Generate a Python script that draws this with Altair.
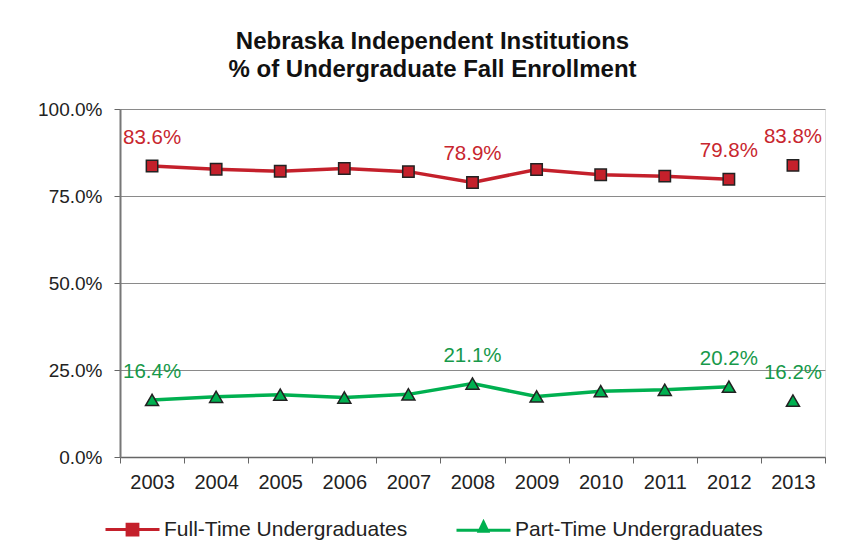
import altair as alt
import pandas as pd

years = ["2003", "2004", "2005", "2006", "2007", "2008", "2009", "2010", "2011", "2012", "2013"]
full_time = [83.6, 82.7, 82.1, 82.9, 82.0, 78.9, 82.6, 81.1, 80.7, 79.8, 83.8]
part_time = [16.4, 17.3, 17.9, 17.1, 18.0, 21.1, 17.4, 18.9, 19.3, 20.2, 16.2]
labeled_years = ["2003", "2008", "2012", "2013"]
line_years = years[:10]  # 2013 is not connected to the line
series_names = ["Full-Time Undergraduates", "Part-Time Undergraduates"]
title_lines = ["Nebraska Independent Institutions", "% of Undergraduate Fall Enrollment"]
y_ticks = [0, 25, 50, 75, 100]

RED = "#C4202B"
GREEN = "#00B050"
RED_TXT = "#C8262E"
GREEN_TXT = "#17994A"
FONT = "Liberation Sans"

rows = []
for s, vals in zip(series_names, [full_time, part_time]):
    for y, v in zip(years, vals):
        rows.append({
            "year": y,
            "series": s,
            "value": v,
            "label": f"{v:.1f}%" if y in labeled_years else "",
            "connected": y in line_years,
        })
df = pd.DataFrame(rows)

x_enc = alt.X(
    "year:O",
    scale=alt.Scale(type="band", paddingInner=0, paddingOuter=0),
    axis=alt.Axis(
        title=None, labelAngle=0, tickBand="extent", labelFontSize=20, labelFont=FONT,
        labelColor="#222", tickColor="#666", tickSize=6, domainColor="#666",
        domainWidth=1.5, labelPadding=9, grid=False,
    ),
)
y_enc = alt.Y(
    "value:Q",
    scale=alt.Scale(domain=[0, 100]),
    axis=alt.Axis(
        title=None, values=y_ticks, labelExpr="format(datum.value, '.1f') + '%'",
        labelFontSize=19, labelFont=FONT, labelColor="#222", tickColor="#666",
        tickSize=6, domainColor="#777", domainWidth=2, labelPadding=12,
        grid=True, gridColor="#8a8a8a", gridWidth=1,
    ),
)

base = alt.Chart(df)

def series_layers(name, color, txt_color, shape, size):
    d = base.transform_filter(alt.datum.series == name)
    line = d.transform_filter(alt.datum.connected == True).mark_line(
        strokeWidth=3.5, color=color
    ).encode(x=x_enc, y=y_enc)
    pts = d.mark_point(
        shape=shape, filled=True, fill=color, stroke="#222", strokeWidth=1.5,
        size=size, opacity=1,
    ).encode(x=x_enc, y=y_enc)
    txt = d.mark_text(
        fontSize=20.5, font=FONT, color=txt_color, dy=-28, baseline="middle"
    ).encode(x=x_enc, y=y_enc, text="label:N")
    return [line, pts, txt]

path_sq = "M-1,0H1M-0.2,-0.2H0.2V0.2H-0.2Z"
path_tri = "M-1,0H1M0,-0.3L0.16,0.04H-0.16Z"

legend_def = alt.Legend(
    title=None, orient="none", legendX=-16, legendY=392, direction="horizontal",
    columns=2, labelFontSize=21, labelFont=FONT, labelColor="#222", labelLimit=500,
    symbolSize=2916, symbolStrokeWidth=3, columnPadding=42, labelOffset=3,
)
legend_layer = base.transform_filter("false").mark_point(
    filled=True, opacity=1, size=2916, strokeWidth=3
).encode(
    x=x_enc, y=y_enc,
    color=alt.Color("series:N", scale=alt.Scale(domain=series_names, range=[RED, GREEN]), legend=legend_def),
    stroke=alt.Stroke("series:N", scale=alt.Scale(domain=series_names, range=[RED, GREEN]), legend=legend_def),
    shape=alt.Shape("series:N", scale=alt.Scale(domain=series_names, range=[path_sq, path_tri]), legend=legend_def),
)

layers = series_layers(series_names[0], RED, RED_TXT, "square", 130) + \
    series_layers(series_names[1], GREEN, GREEN_TXT, "triangle-up", 170) + [legend_layer]

chart = alt.layer(*layers).properties(
    width=705,
    height=348,
    autosize=alt.AutoSizeParams(type="none"),
    padding={"left": 112, "top": 101, "right": 26, "bottom": 94},
    title=alt.TitleParams(
        text=title_lines, fontSize=24, font=FONT, fontWeight="bold", color="#111",
        anchor="middle", frame="group", dx=-40, offset=18, lineHeight=28,
    ),
).configure_view(stroke="#8c8c8c", strokeWidth=2).configure(background="white")

chart.save("out.html", embed_options={"renderer": "svg", "actions": False})
